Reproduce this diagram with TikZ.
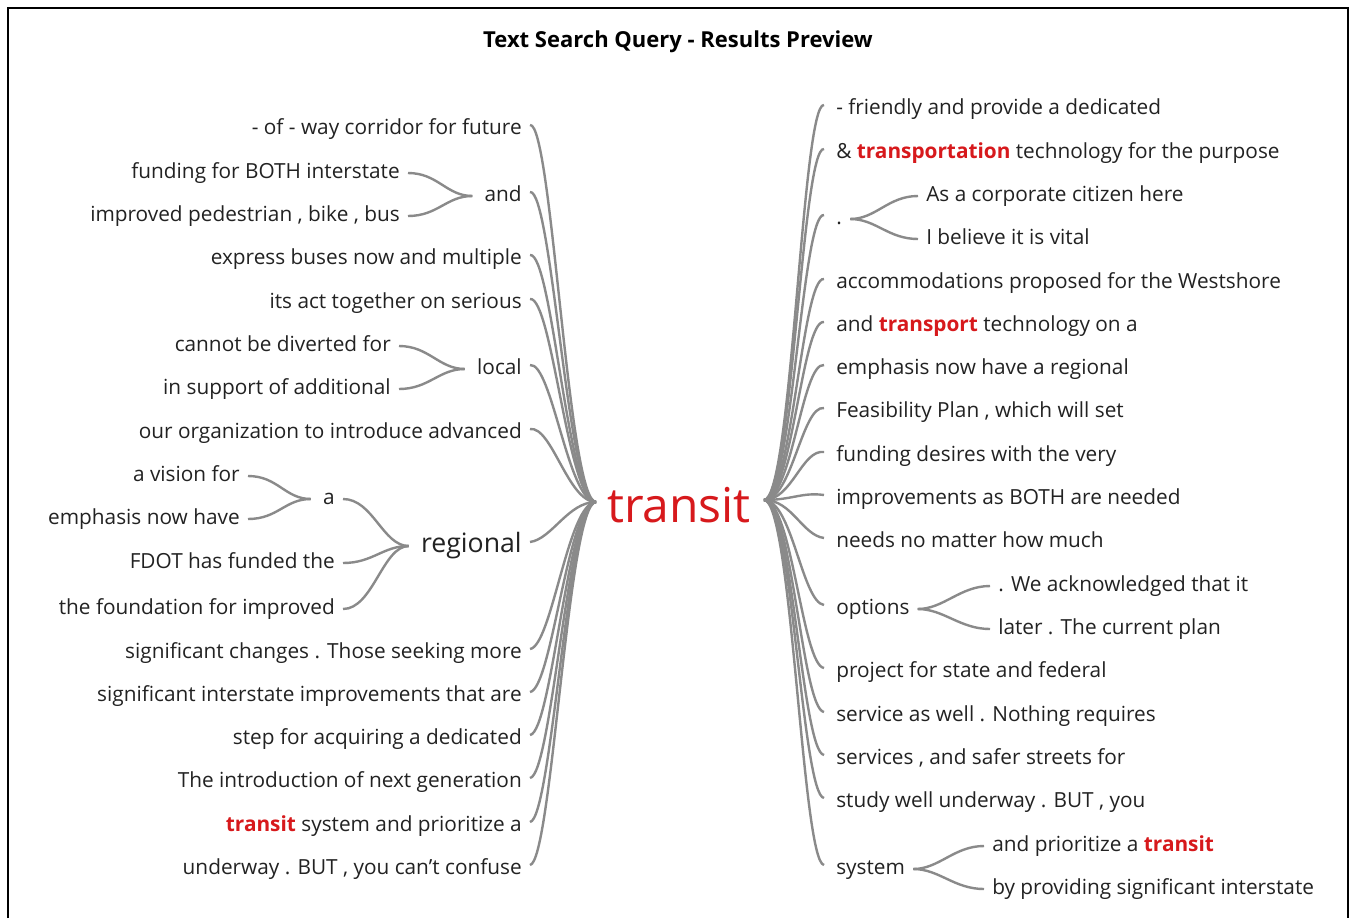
\documentclass[tikz,border=0pt]{standalone}
\usepackage{fontspec}
\setmainfont{Open Sans}
\definecolor{txt}{HTML}{222222}
\definecolor{hl}{HTML}{D7191C}
\definecolor{ln}{HTML}{8A8A8A}
\newcommand\hlw[1]{\textcolor{hl}{\bfseries #1}}
\begin{document}
\begin{tikzpicture}[x=0.75pt,y=-0.75pt,
  leaf/.style={inner sep=0pt, text height=11pt, text depth=3pt, font=\fontsize{15.6}{17}\selectfont, text=txt},
  lleaf/.style={leaf, anchor=east},
  rleaf/.style={leaf, anchor=west},
  conn/.style={draw=ln, line width=1.8pt},
  frame/.style={draw=black, line width=1.4pt}]
\useasboundingbox (0,0) rectangle (1351,918);
\fill[white] (0,0) rectangle (1351,918);
\draw[frame] (8,918) -- (8,8) -- (1348,8) -- (1348,918);
\node[font=\bfseries\fontsize{16.5}{18}\selectfont, text=black, inner sep=0pt] (title) at (678,42) {Text Search Query - Results Preview};

\node[text=hl, font=\fontsize{36}{40}\selectfont, inner sep=0pt] (hub) at (679,505) {transit};
\coordinate (hubL) at (596,502);
\coordinate (hubR) at (764,500);

% left side
\node[lleaf] (L1) at (522,129) {- of - way corridor for future};
\node[lleaf] (L2) at (522,196) {and};
\node[lleaf] (L2a) at (400,173) {funding for BOTH interstate};
\node[lleaf] (L2b) at (400,216) {improved pedestrian , bike , bus};
\node[lleaf] (L3) at (522,259) {express buses now and multiple};
\node[lleaf] (L4) at (522,303) {its act together on serious};
\node[lleaf] (L5) at (522,369) {local};
\node[lleaf] (L5a) at (391,346) {cannot be diverted for};
\node[lleaf] (L5b) at (391,389) {in support of additional};
\node[lleaf] (L6) at (522,433) {our organization to introduce advanced};
\node[lleaf, font=\fontsize{20}{23}\selectfont, text height=14pt, text depth=4pt] (L7) at (522,546) {regional};
\node[lleaf] (L7a) at (335,499) {a};
\node[lleaf] (L7a1) at (240,476) {a vision for};
\node[lleaf] (L7a2) at (240,519) {emphasis now have};
\node[lleaf] (L7b) at (335,563) {FDOT has funded the};
\node[lleaf] (L7c) at (335,609) {the foundation for improved};
\node[lleaf] (L8) at (522,653) {significant changes . Those seeking more};
\node[lleaf] (L9) at (522,696) {significant interstate improvements that are};
\node[lleaf] (L10) at (522,739) {step for acquiring a dedicated};
\node[lleaf] (L11) at (522,782) {The introduction of next generation};
\node[lleaf] (L12) at (522,826) {\hlw{transit} system and prioritize a};
\node[lleaf] (L13) at (522,869) {underway . BUT , you can't confuse};

% right side
\node[rleaf] (R1) at (836,109) {- friendly and provide a dedicated};
\node[rleaf] (R2) at (836,153) {\& \hlw{transportation} technology for the purpose};
\node[rleaf] (R3) at (836,219) {.};
\node[rleaf] (R3a) at (926,196) {As a corporate citizen here};
\node[rleaf] (R3b) at (926,239) {I believe it is vital};
\node[rleaf] (R4) at (836,283) {accommodations proposed for the Westshore};
\node[rleaf] (R5) at (836,326) {and \hlw{transport} technology on a};
\node[rleaf] (R6) at (836,369) {emphasis now have a regional};
\node[rleaf] (R7) at (836,412) {Feasibility Plan , which will set};
\node[rleaf] (R8) at (836,456) {funding desires with the very};
\node[rleaf] (R9) at (836,499) {improvements as BOTH are needed};
\node[rleaf] (R10) at (836,542) {needs no matter how much};
\node[rleaf] (R11) at (836,609) {options};
\node[rleaf] (R11a) at (998,586) {. We acknowledged that it};
\node[rleaf] (R11b) at (998,629) {later . The current plan};
\node[rleaf] (R12) at (836,672) {project for state and federal};
\node[rleaf] (R13) at (836,716) {service as well . Nothing requires};
\node[rleaf] (R14) at (836,759) {services , and safer streets for};
\node[rleaf] (R15) at (836,802) {study well underway . BUT , you};
\node[rleaf] (R16) at (836,869) {system};
\node[rleaf] (R16a) at (992,846) {and prioritize a \hlw{transit}};
\node[rleaf] (R16b) at (992,889) {by providing significant interstate};

% left connectors to hub
\foreach \n in {L1,L2,L3,L4,L5,L6,L7,L8,L9,L10,L11,L12,L13}
  \draw[conn] ([xshift=6pt,yshift=3pt]\n.east) .. controls +(22,-3) and +(-28,0) .. (hubL);
% left sub-branches
\foreach \c/\p in {L2a/L2,L2b/L2,L5a/L5,L5b/L5,L7a/L7,L7b/L7,L7c/L7,L7a1/L7a,L7a2/L7a}
  \draw[conn] ([xshift=6pt]\c.east) .. controls +(30,0) and +(-26,0) .. ([xshift=-9pt]\p.west);
% right connectors from hub
\foreach \n in {R1,R2,R3,R4,R5,R6,R7,R8,R9,R10,R11,R12,R13,R14,R15,R16}
  \draw[conn] (hubR) .. controls +(28,0) and +(-22,-3) .. ([xshift=-9pt,yshift=3pt]\n.west);
% right sub-branches
\foreach \p/\c in {R3/R3a,R3/R3b,R11/R11a,R11/R11b,R16/R16a,R16/R16b}
  \draw[conn] ([xshift=6pt]\p.east) .. controls +(26,0) and +(-30,0) .. ([xshift=-6pt]\c.west);
\end{tikzpicture}
\end{document}
